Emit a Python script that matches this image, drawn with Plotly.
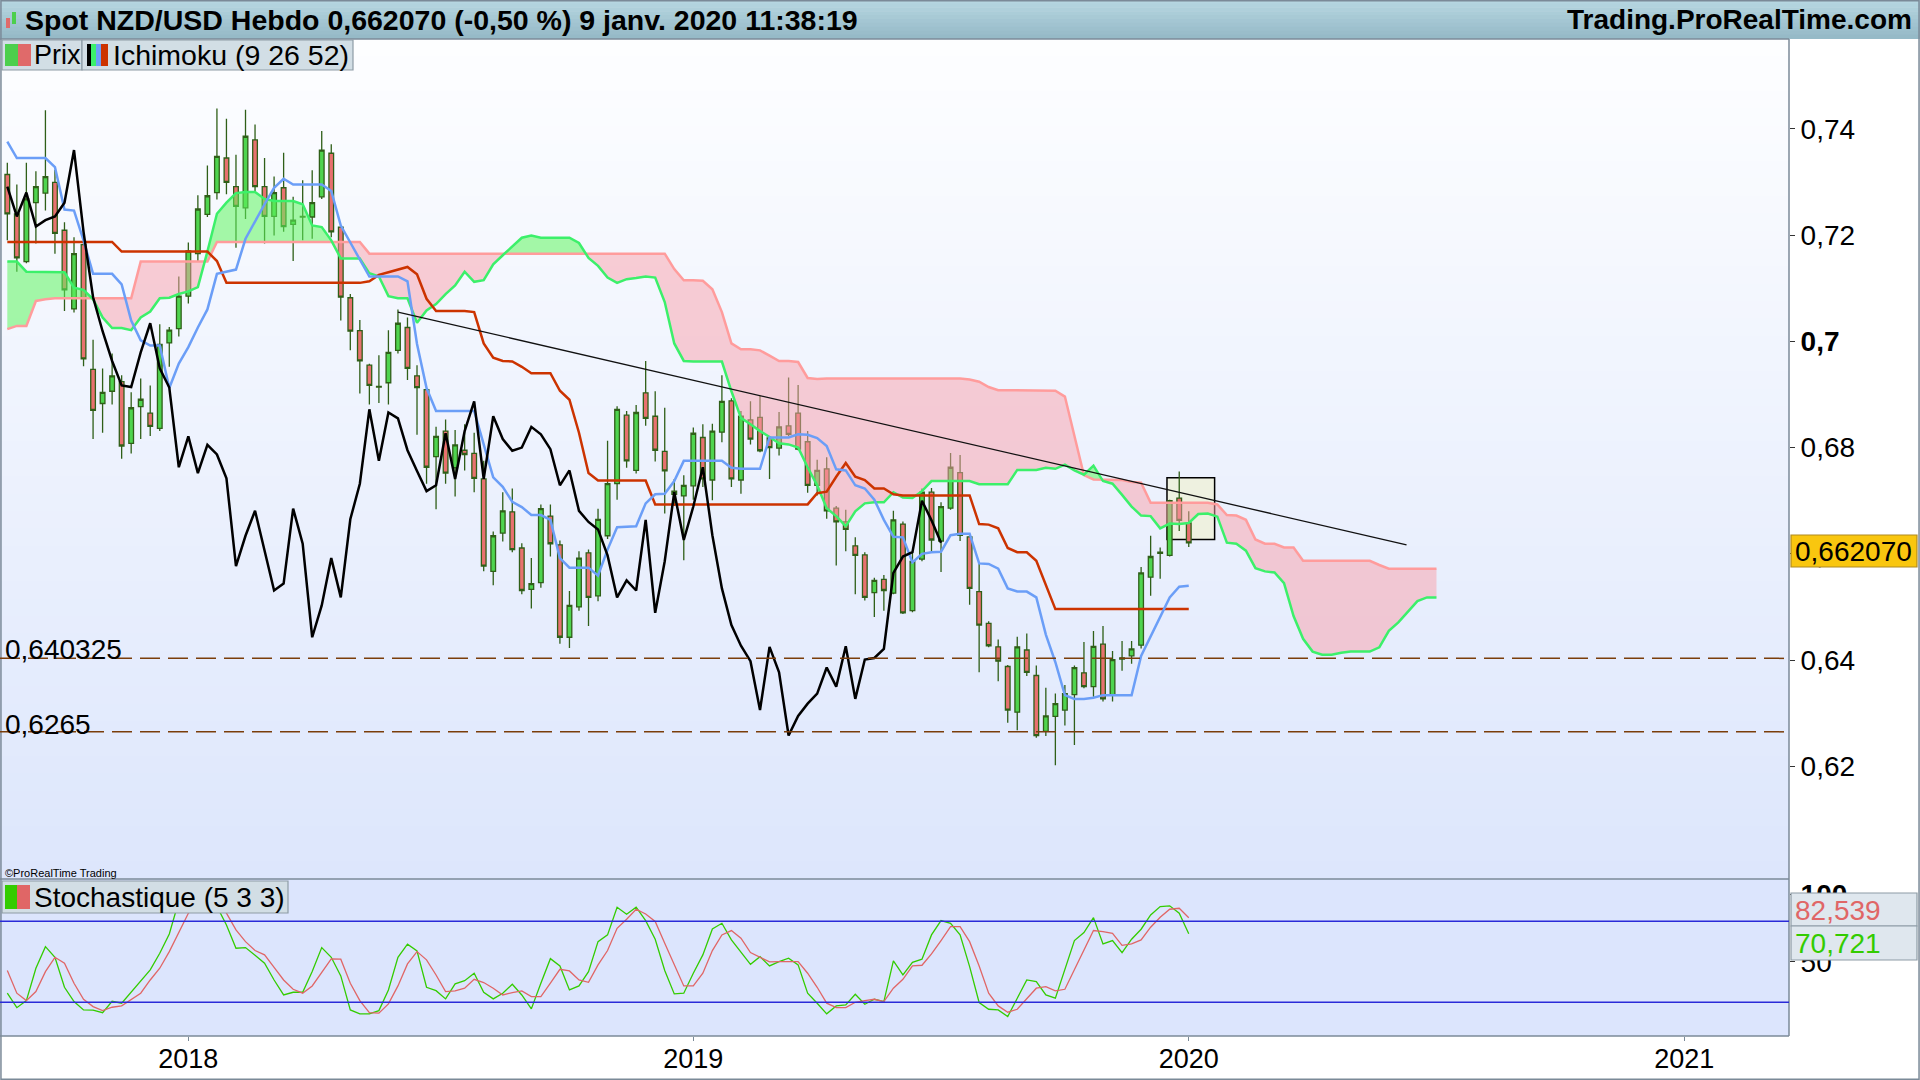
import numpy as np
import pandas as pd
import plotly.graph_objects as go

# ---- weekly NZD/USD candles ----
opens = [0.7314, 0.7240, 0.7150, 0.7261, 0.7279, 0.7299, 0.7209, 0.7061, 0.7182, 0.6947,
         0.6883, 0.6906, 0.6924, 0.6808, 0.6877, 0.6865, 0.6836, 0.6997, 0.7024, 0.7085,
         0.7165, 0.7239, 0.7280, 0.7345, 0.7291, 0.7251, 0.7379, 0.7291, 0.7235, 0.7289,
         0.7220, 0.7234, 0.7234, 0.7272, 0.7354, 0.7215, 0.7082, 0.7020, 0.6955, 0.6915,
         0.6922, 0.6983, 0.7026, 0.6935, 0.6909, 0.6783, 0.6831, 0.6762, 0.6795, 0.6789,
         0.6741, 0.6567, 0.6639, 0.6679, 0.6611, 0.6533, 0.6546, 0.6671, 0.6617, 0.6443,
         0.6500, 0.6602, 0.6521, 0.6634, 0.6732, 0.6861, 0.6757, 0.6903, 0.6859, 0.6793,
         0.6712, 0.6709, 0.6728, 0.6819, 0.6739, 0.6829, 0.6888, 0.6739, 0.6852, 0.6857,
         0.6818, 0.6799, 0.6841, 0.6865, 0.6811, 0.6729, 0.6760, 0.6686, 0.6660, 0.6615,
         0.6598, 0.6527, 0.6552, 0.6526, 0.6656, 0.6493, 0.6590, 0.6716, 0.6624, 0.6686,
         0.6753, 0.6632, 0.6529, 0.6469, 0.6425, 0.6388, 0.6302, 0.6419, 0.6371, 0.6266,
         0.6294, 0.6306, 0.6335, 0.6376, 0.6350, 0.6430, 0.6335, 0.6402, 0.6408, 0.6428,
         0.6556, 0.6601, 0.6597, 0.6705, 0.6658]
highs = [0.7336, 0.7295, 0.7336, 0.7320, 0.7435, 0.7323, 0.7224, 0.7196, 0.7190, 0.7003,
         0.6949, 0.6977, 0.6936, 0.6904, 0.6930, 0.6917, 0.7032, 0.7027, 0.7122, 0.7186,
         0.7275, 0.7331, 0.7438, 0.7419, 0.7351, 0.7436, 0.7408, 0.7345, 0.7310, 0.7355,
         0.7272, 0.7303, 0.7322, 0.7396, 0.7371, 0.7218, 0.7089, 0.7040, 0.6958, 0.6974,
         0.7021, 0.7060, 0.7045, 0.6955, 0.6911, 0.6839, 0.6853, 0.6833, 0.6844, 0.6828,
         0.6775, 0.6642, 0.6716, 0.6723, 0.6620, 0.6592, 0.6693, 0.6693, 0.6625, 0.6530,
         0.6605, 0.6608, 0.6685, 0.6813, 0.6878, 0.6869, 0.6880, 0.6963, 0.6906, 0.6875,
         0.6741, 0.6748, 0.6838, 0.6844, 0.6845, 0.6936, 0.6893, 0.6869, 0.6887, 0.6897,
         0.6822, 0.6867, 0.6932, 0.6918, 0.6831, 0.6777, 0.6782, 0.6690, 0.6683, 0.6631,
         0.6603, 0.6555, 0.6560, 0.6681, 0.6661, 0.6603, 0.6723, 0.6724, 0.6697, 0.6790,
         0.6786, 0.6637, 0.6581, 0.6473, 0.6439, 0.6391, 0.6444, 0.6450, 0.6390, 0.6348,
         0.6337, 0.6353, 0.6390, 0.6434, 0.6455, 0.6464, 0.6417, 0.6436, 0.6436, 0.6575,
         0.6634, 0.6612, 0.6702, 0.6755, 0.6680]
lows = [0.7190, 0.7131, 0.7147, 0.7184, 0.7246, 0.7165, 0.7057, 0.7054, 0.6953, 0.6816,
        0.6828, 0.6881, 0.6779, 0.6789, 0.6816, 0.6822, 0.6831, 0.6952, 0.7009, 0.7071,
        0.7150, 0.7234, 0.7267, 0.7277, 0.7176, 0.7230, 0.7283, 0.7184, 0.7199, 0.7206,
        0.7151, 0.7190, 0.7193, 0.7268, 0.7196, 0.7039, 0.6983, 0.6902, 0.6881, 0.6884,
        0.6881, 0.6977, 0.6927, 0.6824, 0.6732, 0.6684, 0.6732, 0.6708, 0.6757, 0.6716,
        0.6567, 0.6541, 0.6623, 0.6603, 0.6524, 0.6497, 0.6536, 0.6595, 0.6431, 0.6423,
        0.6493, 0.6464, 0.6511, 0.6628, 0.6702, 0.6762, 0.6751, 0.6841, 0.6774, 0.6676,
        0.6690, 0.6588, 0.6702, 0.6726, 0.6701, 0.6810, 0.6726, 0.6713, 0.6806, 0.6791,
        0.6741, 0.6785, 0.6822, 0.6795, 0.6715, 0.6710, 0.6666, 0.6578, 0.6605, 0.6524,
        0.6512, 0.6481, 0.6493, 0.6524, 0.6487, 0.6490, 0.6586, 0.6603, 0.6566, 0.6683,
        0.6624, 0.6504, 0.6377, 0.6424, 0.6360, 0.6282, 0.6268, 0.6370, 0.6254, 0.6257,
        0.6202, 0.6277, 0.6240, 0.6347, 0.6331, 0.6322, 0.6322, 0.6380, 0.6393, 0.6422,
        0.6521, 0.6553, 0.6595, 0.6643, 0.6613]
closes = [0.7240, 0.7157, 0.7268, 0.7291, 0.7310, 0.7203, 0.7097, 0.7165, 0.6967, 0.6870,
          0.6904, 0.6935, 0.6803, 0.6875, 0.6891, 0.6840, 0.6994, 0.7021, 0.7085, 0.7170,
          0.7249, 0.7274, 0.7348, 0.7299, 0.7254, 0.7386, 0.7291, 0.7235, 0.7280, 0.7216,
          0.7228, 0.7235, 0.7261, 0.7360, 0.7206, 0.7083, 0.7019, 0.6963, 0.6917, 0.6914,
          0.6979, 0.7034, 0.6949, 0.6913, 0.6763, 0.6821, 0.6752, 0.6805, 0.6787, 0.6742,
          0.6577, 0.6634, 0.6681, 0.6608, 0.6531, 0.6544, 0.6685, 0.6619, 0.6443, 0.6503,
          0.6592, 0.6518, 0.6665, 0.6732, 0.6872, 0.6775, 0.6866, 0.6855, 0.6795, 0.6756,
          0.6718, 0.6729, 0.6827, 0.6741, 0.6831, 0.6887, 0.6741, 0.6859, 0.6816, 0.6794,
          0.6800, 0.6839, 0.6825, 0.6797, 0.6729, 0.6757, 0.6681, 0.6660, 0.6646, 0.6597,
          0.6518, 0.6550, 0.6531, 0.6664, 0.6489, 0.6586, 0.6716, 0.6626, 0.6689, 0.6763,
          0.6635, 0.6535, 0.6466, 0.6427, 0.6398, 0.6306, 0.6425, 0.6377, 0.6258, 0.6295,
          0.6318, 0.6337, 0.6386, 0.6350, 0.6426, 0.6327, 0.6401, 0.6404, 0.6421, 0.6564,
          0.6595, 0.6603, 0.6700, 0.6663, 0.66207]

# ---- Ichimoku (9 26 52) lines ----
tenkan = [0.7376, 0.7345, 0.7345, 0.7345, 0.7345, 0.7328, 0.7248, 0.7246, 0.7190, 0.7127,
          0.7127, 0.7127, 0.7107, 0.7039, 0.7002, 0.6992, 0.6992, 0.6912, 0.6958, 0.6989,
          0.7026, 0.7060, 0.7127, 0.7131, 0.7135, 0.7193, 0.7227, 0.7258, 0.7289, 0.7306,
          0.7295, 0.7295, 0.7295, 0.7295, 0.7283, 0.7218, 0.7186, 0.7153, 0.7122, 0.7122,
          0.7122, 0.7122, 0.7113, 0.6995, 0.6912, 0.6869, 0.6869, 0.6869, 0.6869, 0.6869,
          0.6806, 0.6744, 0.6726, 0.6698, 0.6688, 0.6673, 0.6673, 0.6664, 0.6592, 0.6574,
          0.6574, 0.6574, 0.6559, 0.6608, 0.6650, 0.6651, 0.6652, 0.6695, 0.6712, 0.6713,
          0.6737, 0.6775, 0.6775, 0.6775, 0.6775, 0.6775, 0.6762, 0.6760, 0.6760, 0.6760,
          0.6819, 0.6819, 0.6819, 0.6825, 0.6824, 0.6818, 0.6803, 0.6759, 0.6757, 0.6729,
          0.6723, 0.6702, 0.6664, 0.6632, 0.6631, 0.6584, 0.6600, 0.6603, 0.6604, 0.6635,
          0.6638, 0.6638, 0.6582, 0.6581, 0.6572, 0.6535, 0.6529, 0.6529, 0.6518, 0.6448,
          0.6396, 0.6334, 0.6327, 0.6327, 0.6329, 0.6334, 0.6334, 0.6334, 0.6334, 0.6408,
          0.6445, 0.6479, 0.6518, 0.6538, 0.6540]
kijun = [0.7187] * 12 + [0.7169] * 10 + [0.7151] + [0.7110] * 15 + [
    0.7113, 0.7125, 0.7130, 0.7135, 0.7140, 0.7126, 0.7080, 0.7057, 0.7057, 0.7057,
    0.7057, 0.7055, 0.6996, 0.6969, 0.6963, 0.6962, 0.6952, 0.6940, 0.6940, 0.6940,
    0.6907, 0.6890, 0.6828, 0.6752] + [0.6738] * 6 + [0.6693] * 17 + [
    0.6714, 0.6717, 0.6745, 0.6771, 0.6745, 0.6739, 0.6723, 0.6723, 0.6712] + [0.6710] * 8 + [
    0.6656, 0.6655, 0.6648, 0.6611, 0.6603, 0.6603, 0.6587, 0.6541] + [0.6496] * 15
senkou_a = [0.7150, 0.7150, 0.7131, 0.7131, 0.7131, 0.7131, 0.7130, 0.7101, 0.7097, 0.7079,
            0.7045, 0.7025, 0.7025, 0.7021, 0.7045, 0.7056, 0.7081, 0.7082, 0.7089, 0.7094,
            0.7102, 0.7169, 0.7240, 0.7261, 0.7279, 0.7281, 0.7281, 0.7268, 0.7264, 0.7264,
            0.7264, 0.7258, 0.7218, 0.7215, 0.7190, 0.7156, 0.7156, 0.7156, 0.7128, 0.7122,
            0.7085, 0.7081, 0.7081, 0.7035, 0.7058, 0.7070, 0.7089, 0.7105, 0.7131, 0.7112,
            0.7115, 0.7145, 0.7162, 0.7179, 0.7195, 0.7199, 0.7195, 0.7195, 0.7195, 0.7195,
            0.7185, 0.7157, 0.7142, 0.7120, 0.7110, 0.7117, 0.7119, 0.7122, 0.7120, 0.7074,
            0.6996, 0.6963, 0.6962, 0.6962, 0.6962, 0.6962, 0.6906, 0.6856, 0.6844, 0.6831,
            0.6820, 0.6808, 0.6806, 0.6800, 0.6763, 0.6729, 0.6686, 0.6671, 0.6652, 0.6680,
            0.6695, 0.6697, 0.6697, 0.6716, 0.6706, 0.6705, 0.6718, 0.6737, 0.6737, 0.6737,
            0.6737, 0.6737, 0.6731, 0.6731, 0.6731, 0.6731, 0.6758, 0.6758, 0.6758, 0.6762,
            0.6760, 0.6768, 0.6757, 0.6749, 0.6766, 0.6737, 0.6732, 0.6711, 0.6689, 0.6672,
            0.6671, 0.6648, 0.6657, 0.6656, 0.6658, 0.6675, 0.6676, 0.6670, 0.6621, 0.6619,
            0.6606, 0.6573, 0.6567, 0.6565, 0.6545, 0.6483, 0.6440, 0.6416, 0.6410, 0.6410,
            0.6414, 0.6416, 0.6416, 0.6416, 0.6424, 0.6455, 0.6471, 0.6492, 0.6511, 0.6518,
            0.6518]
senkou_b = [0.7023, 0.7029, 0.7029, 0.7076, 0.7079] + [0.7081] * 9 + [0.7150] * 8 + \
    [0.7187] * 16 + [0.7165] * 32 + [
    0.7136, 0.7115, 0.7115, 0.7114, 0.7098, 0.7055, 0.6996, 0.6985, 0.6985, 0.6983,
    0.6973, 0.6963, 0.6963, 0.6961, 0.6931, 0.6929] + [0.6930] * 15 + [
    0.6928, 0.6924, 0.6914] + [0.6908] * 6 + [
    0.6907, 0.6896, 0.6822, 0.6748, 0.6740, 0.6740, 0.6740, 0.6739, 0.6735, 0.6734] + \
    [0.6696] * 7 + [0.6693, 0.6673, 0.6672, 0.6664, 0.6627, 0.6619, 0.6619, 0.6612, 0.6612] + \
    [0.6587] * 8 + [0.6579] + [0.6572] * 6

# ---- Stochastique (5 3 3) ----
stoch_k = [26.7, 16.0, 21.2, 45.2, 61.2, 53.3, 31.1, 20.5, 14.3, 14.1,
           12.3, 20.7, 19.3, 27.7, 35.8, 44.0, 56.3, 70.6, 95.0, 99.0,
           100.0, 98.0, 91.0, 77.3, 60.0, 60.5, 54.8, 48.9, 36.5, 25.4,
           27.4, 27.4, 42.7, 60.5, 53.3, 39.5, 14.3, 11.4, 11.4, 13.8,
           29.1, 53.3, 63.0, 58.0, 31.1, 28.6, 22.5, 33.6, 36.0, 41.5,
           27.4, 22.5, 26.7, 33.3, 25.4, 15.1, 34.1, 52.3, 46.9, 29.1,
           32.1, 42.7, 64.9, 69.9, 90.4, 85.2, 90.4, 80.5, 66.7, 43.5,
           26.2, 26.7, 41.5, 55.1, 74.3, 78.5, 66.2, 56.8, 48.1, 53.8,
           46.9, 50.1, 52.6, 47.7, 26.7, 19.3, 11.4, 17.3, 18.0, 25.9,
           18.5, 22.2, 20.5, 50.6, 40.2, 49.6, 51.9, 69.9, 80.5, 78.5,
           69.9, 46.4, 19.8, 14.8, 14.3, 9.4, 23.0, 36.5, 35.3, 25.4,
           23.0, 44.0, 65.7, 71.6, 82.7, 63.2, 65.7, 56.8, 66.7, 74.1,
           84.7, 90.9, 91.4, 85.9, 70.721]
stoch_d = [43.5, 26.7, 21.2, 27.9, 42.7, 53.3, 48.9, 34.1, 22.2, 16.8,
           13.8, 16.3, 17.3, 21.7, 26.7, 36.5, 45.2, 57.5, 71.1, 85.9,
           95.0, 99.0, 96.0, 86.0, 73.6, 64.9, 58.3, 55.1, 45.9, 36.5,
           29.6, 26.7, 32.1, 42.0, 52.1, 51.9, 34.1, 21.2, 12.3, 11.9,
           18.8, 32.1, 48.4, 57.5, 51.4, 40.2, 27.9, 28.4, 30.4, 37.0,
           34.6, 30.4, 25.4, 27.2, 28.4, 24.2, 24.2, 34.1, 44.4, 43.2,
           36.5, 34.8, 47.7, 58.3, 74.8, 81.5, 88.9, 85.4, 79.8, 63.7,
           47.7, 32.1, 32.1, 41.5, 58.3, 69.9, 73.1, 67.4, 56.8, 53.3,
           49.9, 50.1, 50.1, 50.1, 41.5, 31.1, 19.3, 16.0, 16.0, 20.0,
           21.2, 22.2, 20.5, 30.4, 37.0, 46.9, 47.4, 55.8, 65.7, 76.0,
           76.0, 64.9, 46.9, 26.7, 17.3, 12.6, 14.8, 23.0, 30.4, 31.6,
           28.4, 29.6, 44.0, 58.8, 73.1, 72.3, 71.1, 62.2, 63.2, 66.2,
           75.6, 83.0, 88.9, 89.6, 82.539]

levels = [0.640325, 0.6265]
level_labels = ["0,640325", "0,6265"]
trend_x = ["2018-06-04", "2020-06-14"]
trend_y = [0.7055, 0.6617]
box_x = ["2019-12-21", "2020-01-25"]
box_y = [0.6627, 0.6743]
price_ticks = [0.62, 0.64, 0.66, 0.68, 0.70, 0.72, 0.74]
price_labels = ["0,62", "0,64", "0,66", "0,68", "<b>0,7</b>", "0,72", "0,74"]
year_ticks = ["2018-01-01", "2019-01-07", "2020-01-06", "2021-01-04"]
year_labels = ["2018", "2019", "2020", "2021"]

dates = pd.date_range("2017-08-21", periods=len(senkou_a), freq="7D")
cdates = dates[:len(closes)]
SHIFT = 26

W, H = 1920, 1080
FONT = "Liberation Sans, Arial, sans-serif"
PLOT_R = 1789       # right edge of the plot panels (px)
MAIN_T, MAIN_B, STO_B = 39, 879, 1036


def px(x):
    return x / W


def py(y):
    return 1 - y / H


def mix(c0, c1, t):
    return "rgb(%d,%d,%d)" % tuple(round(a + (b - a) * t) for a, b in zip(c0, c1))


def cloud_runs(x, a, b):
    """split the cloud into same-colour polygons, cutting at the crossings"""
    t = x.astype("int64").to_numpy().astype(float)
    runs = []
    cx, ca, cb = [t[0]], [a[0]], [b[0]]
    up = a[0] >= b[0]
    for i in range(1, len(t)):
        now = a[i] >= b[i]
        if now != up:
            d0, d1 = a[i - 1] - b[i - 1], a[i] - b[i]
            f = d0 / (d0 - d1)
            tc = t[i - 1] + f * (t[i] - t[i - 1])
            yc = a[i - 1] + f * (a[i] - a[i - 1])
            cx.append(tc); ca.append(yc); cb.append(yc)
            runs.append((cx, ca, cb, up))
            cx, ca, cb = [tc], [yc], [yc]
            up = now
        cx.append(t[i]); ca.append(a[i]); cb.append(b[i])
    runs.append((cx, ca, cb, up))
    return runs


fig = go.Figure()

# cloud
for rx, ra, rb, up in cloud_runs(dates, senkou_a, senkou_b):
    xs = pd.to_datetime(np.array(rx + rx[::-1]).astype("int64"))
    fig.add_trace(go.Scatter(
        x=xs, y=ra + rb[::-1], mode="lines", fill="toself", line=dict(width=0),
        fillcolor="rgba(95,245,95,0.55)" if up else "rgba(250,160,170,0.5)",
        hoverinfo="skip", showlegend=False))

fig.add_trace(go.Scatter(x=dates, y=senkou_b, mode="lines",
                         line=dict(color="#ff9c9c", width=2.5), showlegend=False))
fig.add_trace(go.Scatter(x=dates, y=senkou_a, mode="lines",
                         line=dict(color="#3cf06a", width=2.5), showlegend=False))

fig.add_trace(go.Candlestick(
    x=cdates, open=opens, high=highs, low=lows, close=closes,
    increasing=dict(fillcolor="#4fd44f", line=dict(color="#2f5f18", width=1.3)),
    decreasing=dict(fillcolor="#e8716f", line=dict(color="#2f5f18", width=1.3)),
    whiskerwidth=0, showlegend=False))

fig.add_trace(go.Scatter(x=cdates, y=kijun, mode="lines",
                         line=dict(color="#cc3300", width=2.5), showlegend=False))
fig.add_trace(go.Scatter(x=cdates, y=tenkan, mode="lines",
                         line=dict(color="#6b9ef7", width=2.5), showlegend=False))
fig.add_trace(go.Scatter(x=cdates[:len(closes) - SHIFT], y=closes[SHIFT:], mode="lines",
                         line=dict(color="#000000", width=2.5), showlegend=False))
fig.add_trace(go.Scatter(x=trend_x, y=trend_y, mode="lines",
                         line=dict(color="#111111", width=1.3), showlegend=False))

# stochastic panel
fig.add_trace(go.Scatter(x=cdates, y=stoch_k, mode="lines", xaxis="x2", yaxis="y2",
                         line=dict(color="#33cc00", width=1.3), showlegend=False))
fig.add_trace(go.Scatter(x=cdates, y=stoch_d, mode="lines", xaxis="x2", yaxis="y2",
                         line=dict(color="#e06666", width=1.3), showlegend=False))

shapes = []
# backgrounds
n = 48
for i in range(n):
    y0 = MAIN_T + (MAIN_B - MAIN_T) * i / n
    y1 = MAIN_T + (MAIN_B - MAIN_T) * (i + 1) / n
    shapes.append(dict(type="rect", xref="paper", yref="paper", x0=0, x1=px(PLOT_R),
                       y0=py(y1), y1=py(y0) + 0.0005, layer="below", line_width=0,
                       fillcolor=mix((253, 254, 255), (221, 230, 252), i / (n - 1))))
shapes.append(dict(type="rect", xref="paper", yref="paper", x0=0, x1=px(PLOT_R),
                   y0=py(STO_B), y1=py(MAIN_B), layer="below", line_width=0,
                   fillcolor="rgb(220,229,253)"))
for i in range(10):
    shapes.append(dict(type="rect", xref="paper", yref="paper", x0=0, x1=1,
                       y0=py(MAIN_T * (i + 1) / 10), y1=py(MAIN_T * i / 10) + 0.0005,
                       layer="below", line_width=0,
                       fillcolor=mix((182, 214, 225), (150, 186, 199), i / 9)))
# panel borders
border = "#7b8a98"
for y in (MAIN_T, MAIN_B, STO_B):
    shapes.append(dict(type="line", xref="paper", yref="paper", x0=0, x1=px(PLOT_R),
                       y0=py(y), y1=py(y), line=dict(color=border, width=1.5)))
shapes.append(dict(type="line", xref="paper", yref="paper", x0=px(PLOT_R), x1=px(PLOT_R),
                   y0=py(STO_B), y1=py(MAIN_T), line=dict(color=border, width=1.5)))
shapes.append(dict(type="rect", xref="paper", yref="paper", x0=0.0005, x1=0.9995,
                   y0=0.0008, y1=0.9992, line=dict(color=border, width=1.5)))

# horizontal levels
for lv in levels:
    shapes.append(dict(type="line", xref="paper", yref="y", x0=0, x1=px(PLOT_R),
                       y0=lv, y1=lv, line=dict(color="#7a3d0a", width=1.5, dash="20px,8px")))
for lv in (80, 20):
    shapes.append(dict(type="line", xref="paper", yref="y2", x0=0, x1=px(PLOT_R),
                       y0=lv, y1=lv, line=dict(color="#2a2ad8", width=1.5)))

# highlighted box around the last candles
shapes.append(dict(type="rect", xref="x", yref="y", x0=box_x[0], x1=box_x[1],
                   y0=box_y[0], y1=box_y[1], layer="below",
                   fillcolor="rgba(238,240,222,0.95)", line=dict(color="#000000", width=1.5)))


# legend boxes
def label_box(x0, y0, x1, y1):
    shapes.append(dict(type="rect", xref="paper", yref="paper", x0=px(x0), x1=px(x1),
                       y0=py(y1), y1=py(y0), fillcolor="#d2dee5",
                       line=dict(color="#8e9ca6", width=1.2), layer="above"))


def swatch(x0, x1, y0, y1, color):
    shapes.append(dict(type="rect", xref="paper", yref="paper", x0=px(x0), x1=px(x1),
                       y0=py(y1), y1=py(y0), fillcolor=color, line_width=0, layer="above"))


label_box(2, 40, 82, 70)
label_box(82, 40, 353, 70)
swatch(5, 18, 44, 66, "#4ccf4c")
swatch(18, 31, 44, 66, "#e06a6a")
swatch(87, 91, 44, 66, "#000000")
swatch(91, 96, 44, 66, "#3cf06a")
swatch(96, 101, 44, 66, "#6b9ef7")
swatch(101, 108, 44, 66, "#cc3300")
label_box(2, 881, 288, 913)
swatch(5, 17, 885, 909, "#33cc00")
swatch(17, 30, 885, 909, "#e06666")

# value boxes on the right axis
shapes.append(dict(type="rect", xref="paper", yref="paper", x0=px(1791), x1=px(1917),
                   y0=py(567), y1=py(535), fillcolor="#f9c60f",
                   line=dict(color="#b08a20", width=1.2), layer="above"))
shapes.append(dict(type="rect", xref="paper", yref="paper", x0=px(1791), x1=px(1917),
                   y0=py(926), y1=py(893), fillcolor="#dfe7ee",
                   line=dict(color="#8e9ca6", width=1.2), layer="above"))
shapes.append(dict(type="rect", xref="paper", yref="paper", x0=px(1791), x1=px(1917),
                   y0=py(960), y1=py(926), fillcolor="#dfe7ee",
                   line=dict(color="#8e9ca6", width=1.2), layer="above"))
# title bar icon
swatch(6, 10, 18, 28, "#e06a6a")
swatch(12, 16, 12, 24, "#4ccf4c")


def text(x, y, s, size=28, color="#000", anchor="left", bold=False):
    return dict(xref="paper", yref="paper", x=px(x), y=py(y), text=f"<b>{s}</b>" if bold else s,
                showarrow=False, xanchor=anchor, yanchor="middle",
                font=dict(family=FONT, size=size, color=color))


annotations = [
    text(23, 20, "Spot NZD/USD Hebdo 0,662070 (-0,50 %) 9 janv. 2020 11:38:19", 28.5, bold=True),
    text(1914, 20, "Trading.ProRealTime.com", 28, anchor="right", bold=True),
    text(32, 55, "Prix", 27),
    text(111, 55, "Ichimoku (9 26 52)", 28.5),
    text(32, 897, "Stochastique (5 3 3)", 28),
    text(3, 873, "©ProRealTime Trading", 11),
    text(3, 649, level_labels[0], 28),
    text(3, 724, level_labels[1], 28),
    text(1793, 551, "0,662070", 28),
    text(1793, 910, "82,539", 28, color="#e06666"),
    text(1793, 943, "70,721", 28, color="#33cc00"),
]

fig.update_layout(
    width=W, height=H, margin=dict(l=0, r=0, t=0, b=0),
    paper_bgcolor="white", plot_bgcolor="rgba(0,0,0,0)",
    font=dict(family=FONT, size=28, color="black"),
    showlegend=False, hovermode=False,
    shapes=shapes, annotations=annotations,
    xaxis=dict(domain=[0, px(PLOT_R)], range=["2017-08-15 15:00", "2021-03-22"],
               showticklabels=False, showgrid=False, zeroline=False,
               rangeslider=dict(visible=False)),
    yaxis=dict(domain=[py(MAIN_B), py(MAIN_T)], range=[0.5988, 0.7569], side="right",
               tickvals=price_ticks, ticktext=price_labels, ticks="outside", ticklen=5,
               tickcolor="#333", showgrid=False, zeroline=False,
               tickfont=dict(family=FONT, size=28)),
    xaxis2=dict(domain=[0, px(PLOT_R)], anchor="y2", matches="x", showgrid=False,
                zeroline=False, tickvals=year_ticks, ticktext=year_labels,
                ticks="outside", ticklen=4, tickcolor=border, ticklabelstandoff=-5,
                tickfont=dict(family=FONT, size=27)),
    yaxis2=dict(domain=[py(STO_B), py(MAIN_B)], range=[-5.0, 111.3], side="right",
                anchor="x2", tickvals=[50, 100], ticktext=["50", "<b>100</b>"],
                ticks="outside", ticklen=5, tickcolor="#333", showgrid=False,
                zeroline=False, tickfont=dict(family=FONT, size=28)),
)

fig.write_html("out.html", config={"displayModeBar": False},
               post_script="document.body.style.margin='0';"
                           "document.body.style.overflow='hidden';")
